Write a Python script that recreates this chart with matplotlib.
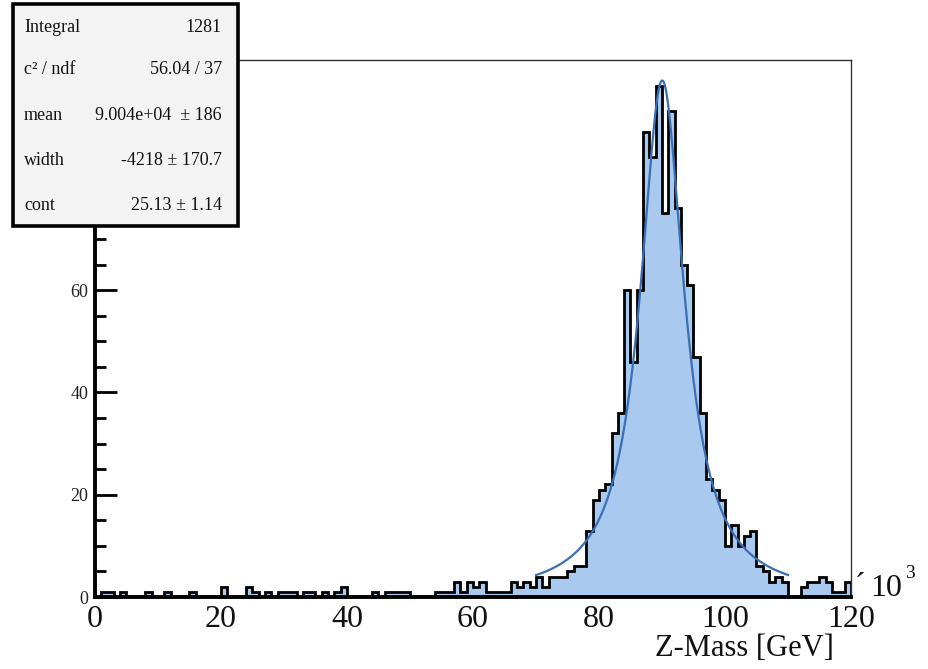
import numpy as np
import matplotlib
matplotlib.use("Agg")
import matplotlib.pyplot as plt
from matplotlib.patches import Rectangle

# ---------------- data ----------------
bin_edges = np.arange(0, 121, 1)  # Z mass bins [GeV x10^3 MeV]
counts = [
    0, 1, 1, 0, 1, 0, 0, 0, 1, 0,      # 0-9
    0, 1, 0, 0, 0, 1, 0, 0, 0, 0,      # 10-19
    2, 0, 0, 0, 2, 1, 0, 1, 0, 1,      # 20-29
    1, 1, 0, 1, 1, 0, 1, 0, 1, 2,      # 30-39
    0, 0, 0, 0, 1, 0, 1, 1, 1, 1,      # 40-49
    0, 0, 0, 0, 1, 1, 1, 3, 1, 3,      # 50-59
    2, 3, 1, 1, 1, 1, 3, 2, 3, 2,      # 60-69
    4, 2, 4, 4, 4, 5, 6, 6, 13, 19,    # 70-79
    21, 22, 32, 36, 60, 46, 60, 91, 86, 100,  # 80-89
    75, 95, 76, 65, 61, 47, 36, 23, 21, 19,   # 90-99
    10, 14, 10, 12, 13, 6, 5, 3, 4, 3,        # 100-109
    0, 0, 2, 3, 3, 4, 3, 1, 1, 3,             # 110-119
]

fit_mean = 90.04     # 9.004e+04 MeV
fit_width = 4.218
fit_peak = 101.0
fit_lo, fit_hi = 70.0, 110.0

x_ticks = [0, 20, 40, 60, 80, 100, 120]
y_major = [0, 20, 40, 60, 80, 100]
y_major_labels = ["0", "20", "40", "60", "", ""]
y_minor = [v for v in range(0, 106, 5) if v % 20]

stats_labels = ["Integral", "c² / ndf", "mean", "width", "cont"]
stats_values = ["1281", "56.04 / 37", "9.004e+04  ± 186", "-4218 ± 170.7", "25.13 ± 1.14"]

# ---------------- figure ----------------
plt.rcParams['font.family'] = ['Liberation Serif', 'DejaVu Serif']
W, H = 929, 669
fig = plt.figure(figsize=(W / 100, H / 100), dpi=100)
fig.patch.set_facecolor('white')

def fx(px):
    return px / W

def fy(py):
    return 1 - py / H

ax = fig.add_axes([fx(95), fy(597), fx(851) - fx(95), fy(60) - fy(597)])
ax.set_xlim(0, 120)
ax.set_ylim(0, 105)

fill_col = '#a9c9ef'
ax.stairs(counts, bin_edges, fill=True, facecolor=fill_col, edgecolor='none', zorder=1)
ax.stairs(counts, bin_edges, color='black', lw=2.0, zorder=2)

xf = np.linspace(fit_lo, fit_hi, 400)
yf = fit_peak * fit_width ** 2 / ((xf - fit_mean) ** 2 + fit_width ** 2)
ax.plot(xf, yf, color='#3b6fb4', lw=1.6, zorder=3)

for s in ['left', 'bottom']:
    ax.spines[s].set_linewidth(2.8)
    ax.spines[s].set_color('black')
for s in ['top', 'right']:
    ax.spines[s].set_linewidth(1.0)
    ax.spines[s].set_color('#333333')

ax.set_xticks(x_ticks)
ax.set_xticklabels([str(v) for v in x_ticks])
ax.tick_params(axis='x', length=0, labelsize=23, pad=6, colors='black', labelcolor='#111111')
ax.set_yticks(y_major)
ax.set_yticklabels(y_major_labels)
ax.set_yticks(y_minor, minor=True)
ax.tick_params(axis='y', which='major', direction='in', length=16, width=2.0,
               labelsize=13, pad=5, colors='black', labelcolor='#222222')
ax.tick_params(axis='y', which='minor', direction='in', length=8, width=2.0, colors='black')

# axis title and exponent
fig.text(fx(834), fy(649), "Z-Mass [GeV]", ha='right', va='center', fontsize=22, color='#111111')
fig.text(fx(855), fy(594), "´", ha='left', va='baseline', fontsize=23, color='#111111')
fig.text(fx(870), fy(596), "10", ha='left', va='baseline', fontsize=23, color='#111111')
fig.text(fx(905), fy(578), "3", ha='left', va='baseline', fontsize=14, color='#111111')

# stats box
box = Rectangle((fx(13), fy(226)), fx(238) - fx(13), fy(4) - fy(226), transform=fig.transFigure,
                facecolor='#f3f3f3', edgecolor='black', lw=2.6, zorder=5)
fig.patches.append(box)
row_y = [27, 70, 115, 161, 205]
for lab, val, yy in zip(stats_labels, stats_values, row_y):
    fig.text(fx(24), fy(yy), lab, ha='left', va='center', fontsize=13, color='#111111', zorder=6)
    fig.text(fx(222), fy(yy), val, ha='right', va='center', fontsize=13, color='#111111', zorder=6)

fig.savefig('out.png', dpi=100, facecolor='white')
